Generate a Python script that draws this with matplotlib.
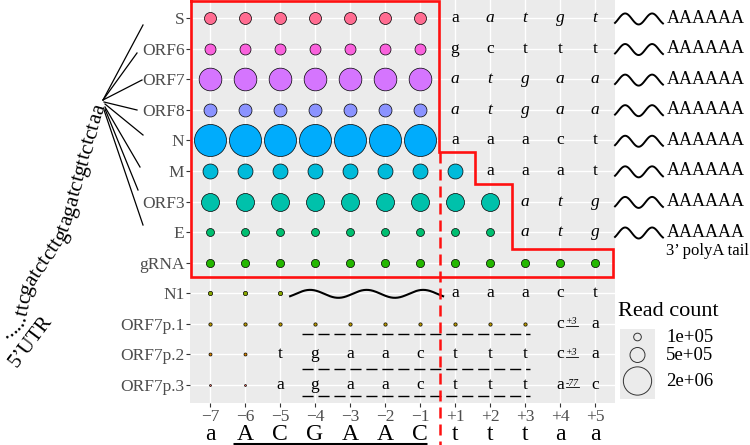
import numpy as np
import matplotlib
matplotlib.use("Agg")
import matplotlib.pyplot as plt
from matplotlib.lines import Line2D
from matplotlib.transforms import Affine2D
from matplotlib.font_manager import FontProperties, findfont
from matplotlib.ft2font import FT2Font

plt.rcParams["font.family"] = ["Liberation Serif", "DejaVu Serif"]

# ---- data -------------------------------------------------------------
positions = ["\u22127", "\u22126", "\u22125", "\u22124", "\u22123", "\u22122", "\u22121",
             "+1", "+2", "+3", "+4", "+5"]
bases = ["a", "A", "C", "G", "A", "A", "C", "t", "t", "t", "a", "a"]
rows = ["S", "ORF6", "ORF7", "ORF8", "N", "M", "ORF3", "E", "gRNA",
        "N1", "ORF7p.1", "ORF7p.2", "ORF7p.3"]
colors = ["#FF6C91", "#F962DD", "#D575FE", "#8B93FF", "#00ACFC", "#00BBDA",
          "#00C1AB", "#00BE70", "#24B700", "#8CAB00", "#BE9C00", "#E18A00", "#F8766D"]
read_count = [3.0e5, 2.45e5, 1.25e6, 3.6e5, 2.6e6, 5.0e5, 7.5e5,
              1.1e5, 1.2e5, 1.9e4, 7.3e3, 4.8e3, 1.0e2]
# points run from -7 up to this position
last_point = ["\u22121", "\u22121", "\u22121", "\u22121", "\u22121", "+1", "+2",
              "+2", "+5", "\u22125", "+3", "\u22126", "\u22126"]
# letters shown in the cells: row -> (first position, letters, italic flags)
cell_text = {
    "S": ("+1", "aatgt", "01111"),
    "ORF6": ("+1", "gcttt", "00000"),
    "ORF7": ("+1", "atgaa", "11111"),
    "ORF8": ("+1", "atgaa", "11111"),
    "N": ("+1", "aaact", "00000"),
    "M": ("+2", "aaat", "0000"),
    "ORF3": ("+3", "atg", "111"),
    "E": ("+3", "atg", "111"),
    "N1": ("+1", "aaact", "00000"),
    "ORF7p.1": ("+4", "ca", "00"),
    "ORF7p.2": ("\u22125", "tgaactttca", "0000000000"),
    "ORF7p.3": ("\u22125", "agaactttac", "0000000000"),
}
superscripts = {("ORF7p.1", "+4"): "+3", ("ORF7p.2", "+4"): "+3", ("ORF7p.3", "+4"): "-77"}
tail_rows = ["S", "ORF6", "ORF7", "ORF8", "N", "M", "ORF3", "E"]
legend_breaks = [1e5, 5e5, 2e6]
legend_labels = ["1e+05", "5e+05", "2e+06"]
utr_seq = "......ttcgatctcttgtagatctgttctctaa"


def size(v):
    # area scale like ggplot: diameter ~ sqrt of rescaled value
    d_px = 1.7 + 30.3 * np.sqrt(np.asarray(v) / 2.6e6)
    return (d_px * 0.72) ** 2


def advances(s, fs, style="normal"):
    font = FT2Font(findfont(FontProperties(family="Liberation Serif", style=style)),
                   hinting_factor=1)
    font.set_size(fs, 100)
    return [font.load_char(ord(c)).horiAdvance / 64 for c in s]


W, H = 750, 445
fig = plt.figure(figsize=(W / 100, H / 100), dpi=100)
pix = Affine2D().scale(1, -1).translate(0, H)  # top-left pixel coords

ax = fig.add_axes([190 / W, (H - 403) / H, 425 / W, 403 / H])
ax.set_xlim(-0.57, 11.57)
ax.set_ylim(12.59, -0.59)
ax.set_facecolor("#EBEBEB")
for sp in ax.spines.values():
    sp.set_visible(False)
ax.set_axisbelow(True)
ax.grid(color="white", lw=1.0)
ax.set_xticks(range(len(positions)), positions)
ax.set_yticks(range(len(rows)), rows)
ax.tick_params(length=3, width=0.8, color="#333333", labelcolor="#4D4D4D",
               labelsize=12.5)
ax.tick_params(axis="y", pad=1)
ax.tick_params(axis="x", pad=1.5)

# points
for i, row in enumerate(rows):
    xs = np.arange(positions.index(last_point[i]) + 1)
    ax.scatter(xs, np.full(len(xs), i), s=size(read_count[i]), c=colors[i],
               edgecolors="black", linewidths=0.5, zorder=3)

# cell letters
for row, (start, letters, ital) in cell_text.items():
    i = rows.index(row)
    c0 = positions.index(start)
    for k, ch in enumerate(letters):
        col = c0 + k
        style = "italic" if ital[k] == "1" else "normal"
        ax.text(col, i, ch, ha="center", va="center", fontsize=12.5, style=style, zorder=4)
        sup = superscripts.get((row, positions[col]))
        if sup:
            x0 = col + 0.17
            ax.text(x0, i + 0.02, sup, ha="left", va="baseline", fontsize=7,
                    style="italic", zorder=4)
            wd = sum(advances(sup, 7, "italic")) / 35
            ax.plot([x0, x0 + wd], [i + 0.08, i + 0.08], color="black", lw=0.6, zorder=4)

# red outline and dashed boundary
box_x = [-0.53, 6.55, 6.55, 7.57, 7.57, 8.63, 8.63, 11.51, 11.51, -0.53, -0.53]
box_y = [-0.55, -0.55, 4.38, 4.38, 5.42, 5.42, 7.55, 7.55, 8.46, 8.46, -0.55]
ax.plot(box_x, box_y, color="#FF1010", lw=1.9, clip_on=False, zorder=6,
        solid_joinstyle="miter")
ax.plot([6.57, 6.57], [4.38, 14.0], color="#FF1010", lw=1.8, dashes=(4.4, 2.4),
        clip_on=False, zorder=6)

# black dashed lines under ORF7p rows
for yy in [10.33, 11.47, 12.35]:
    ax.plot([2.62, 9.14], [yy, yy], color="black", lw=1.0, dashes=(8, 3.5), zorder=4)

# wavy line in N1 row
xw = np.linspace(2.29, 6.66, 200)
ax.plot(xw, 9.02 - 0.13 * np.cos(2 * np.pi * (xw - 2.86) / 1.615), color="black",
        lw=1.5, zorder=4)

# 3' tails
for row in tail_rows:
    i = rows.index(row)
    xt = np.linspace(11.57, 12.94, 80)
    ax.plot(xt, i + 0.03 - 0.18 * np.cos(2 * np.pi * (xt - 11.86) / 0.77),
            color="black", lw=1.4, clip_on=False)
    ax.text(13.06, i, "AAAAAA", ha="left", va="center", fontsize=13, clip_on=False)
ax.text(14.22, 7.62, "3\u2019 polyA tail", ha="center", va="center", fontsize=12,
        clip_on=False)

# base letters under the axis
for k, b in enumerate(bases):
    ax.text(k, 13.8, b, ha="center", va="baseline", fontsize=17, clip_on=False)
ax.plot([0.66, 6.2], [13.92, 13.92], color="black", lw=2.2, clip_on=False,
        solid_capstyle="butt")

# legend
fig.text(618, 312, "Read count", transform=pix, ha="left", va="center", fontsize=16)
lax = fig.add_axes([620 / W, (H - 399) / H, 35 / W, 70 / H])
lax.set_facecolor("#EBEBEB")
lax.set_xlim(0, 35)
lax.set_ylim(70, 0)
lax.set_xticks([])
lax.set_yticks([])
for sp in lax.spines.values():
    sp.set_visible(False)
key_y = [8, 26, 52]
lax.scatter([17.5] * 3, key_y, s=size(legend_breaks), facecolors="none",
            edgecolors="#333333", linewidths=0.7)
for ky, lab in zip(key_y, legend_labels):
    fig.text(666, 329 + ky, lab, transform=pix, ha="left", va="center", fontsize=13.5)

# fan of lines to the sub-genomic rows
fan = [((103, 100), (143, 25)), ((103, 100), (137, 53)), ((103, 100), (142, 80)),
       ((104, 102), (137, 110)), ((105, 104), (143, 135)), ((105, 107), (140, 167)),
       ((105, 109), (138, 190)), ((104, 110), (143, 225))]
for (x0, y0), (x1, y1) in fan:
    fig.add_artist(Line2D([x0, x1], [y0, y1], transform=pix, color="black", lw=0.9))


# curved leader sequence
def catmull(P, n=20):
    P = np.vstack([2 * P[0] - P[1], P, 2 * P[-1] - P[-2]])
    out = []
    t = np.linspace(0, 1, n, endpoint=False)[:, None]
    for j in range(1, len(P) - 2):
        p0, p1, p2, p3 = P[j - 1], P[j], P[j + 1], P[j + 2]
        out.append(0.5 * (2 * p1 + (-p0 + p2) * t + (2 * p0 - 5 * p1 + 4 * p2 - p3) * t ** 2
                          + (-p0 + 3 * p1 - 3 * p2 + p3) * t ** 3))
    out.append(P[-2][None])
    return np.vstack(out)


path = catmull(np.array([(4, 335), (11, 331), (18, 325), (23, 314), (25, 301),
                         (28, 288), (37, 273), (50, 254), (63, 233), (72, 205),
                         (86, 155), (100, 104)], float))
seg = np.hypot(*np.diff(path, axis=0).T)
arc = np.concatenate([[0], np.cumsum(seg)])
adv = np.array(advances(utr_seq, 15.5))
adv *= arc[-1] / adv.sum()  # spread the letters over the whole curve
pos = 0.0
for ch, a in zip(utr_seq, adv):
    sc = pos + a / 2
    j = int(np.clip(np.searchsorted(arc, sc), 1, len(path) - 1))
    f = (sc - arc[j - 1]) / max(seg[j - 1], 1e-9)
    px, py = path[j - 1] + f * (path[j] - path[j - 1])
    dx, dy = path[j] - path[j - 1]
    ang = np.degrees(np.arctan2(-dy, dx))
    fig.text(px, py, ch, transform=pix, ha="center", va="center", rotation=ang,
             rotation_mode="anchor", fontsize=15.5)
    pos += a
fig.text(31, 342, "5\u2019UTR", transform=pix, ha="center", va="center", rotation=53,
         rotation_mode="anchor", fontsize=15)

fig.savefig("out.png", dpi=100)
